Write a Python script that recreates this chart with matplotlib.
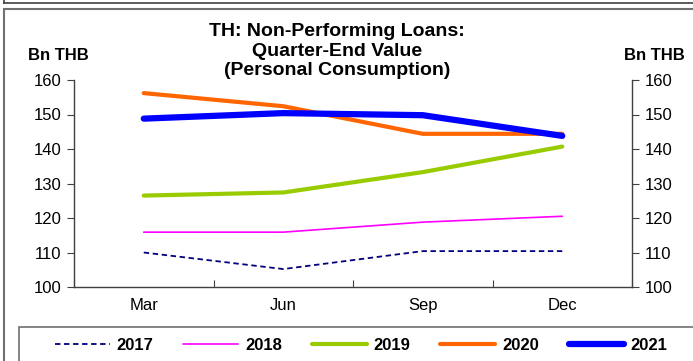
import matplotlib.pyplot as plt
from matplotlib.patches import Rectangle
from matplotlib.lines import Line2D

plt.rcParams['font.family'] = ['Liberation Sans', 'DejaVu Sans']

quarters = ["Mar", "Jun", "Sep", "Dec"]
years = ["2017", "2018", "2019", "2020", "2021"]
npl_2017 = [110.0, 105.2, 110.4, 110.4]
npl_2018 = [115.9, 115.9, 118.8, 120.5]
npl_2019 = [126.5, 127.4, 133.3, 140.7]
npl_2020 = [156.2, 152.4, 144.4, 144.4]
npl_2021 = [148.8, 150.4, 149.8, 143.8]

series = [npl_2017, npl_2018, npl_2019, npl_2020, npl_2021]
colors = ["#000080", "#FF00FF", "#99CC00", "#FF6600", "#0000FF"]
widths = [1.3, 1.2, 3.0, 3.0, 4.5]
styles = [(0, (3, 2)), "-", "-", "-", "-"]

W, H = 693, 361
fig = plt.figure(figsize=(W / 100, H / 100), dpi=100)

# chart frame and the edge of the box above it
fig.patches.append(Rectangle((3.5 / W, -0.1), (W + 10) / W, (H - 8.5) / H + 0.1,
                             transform=fig.transFigure, fill=False,
                             edgecolor="#707070", linewidth=1.5))
fig.add_artist(Line2D([3.5 / W, 1.0], [1 - 2.5 / H, 1 - 2.5 / H],
                      transform=fig.transFigure, color="#404040", lw=1.2))
fig.add_artist(Line2D([3.5 / W, 3.5 / W], [1 - 2.5 / H, 1.0],
                      transform=fig.transFigure, color="#404040", lw=1.2))

x0, x1, y0, y1 = 74, 632, 287, 80
ax = fig.add_axes([x0 / W, 1 - y0 / H, (x1 - x0) / W, (y0 - y1) / H])
x = list(range(len(quarters)))
lines = []
for vals, c, lw, ls, lab in zip(series, colors, widths, styles, years):
    ln, = ax.plot(x, vals, color=c, lw=lw, linestyle=ls, label=lab,
                  solid_capstyle="round")
    lines.append(ln)

ax.set_xlim(-0.5, 3.5)
ax.set_ylim(100, 160)
ax.set_yticks(range(100, 161, 10))
ax.set_xticks([-0.5, 0.5, 1.5, 2.5, 3.5])
ax.set_xticklabels([])
ax.set_xticks(x, minor=True)
ax.set_xticklabels(quarters, minor=True)
ax.tick_params(axis="x", which="minor", length=0, pad=8, labelsize=12)
ax.tick_params(axis="x", which="major", length=5, direction="in", color="#404040")
ax.tick_params(axis="y", which="both", direction="out", length=5, color="#404040",
               labelsize=12, left=True, right=True, labelleft=True, labelright=True,
               pad=4)
ax.spines["top"].set_visible(False)
for s in ["left", "right", "bottom"]:
    ax.spines[s].set_color("#404040")
    ax.spines[s].set_linewidth(1.0)

fig.text(337 / W, 1 - 51 / H, "TH: Non-Performing Loans:\nQuarter-End Value\n(Personal Consumption)",
         ha="center", va="center", fontsize=14, fontweight="bold", linespacing=1.2)
fig.text(58 / W, 1 - 55 / H, "Bn THB", ha="center", va="center", fontsize=12, fontweight="bold")
fig.text(654 / W, 1 - 55 / H, "Bn THB", ha="center", va="center", fontsize=12, fontweight="bold")

# legend box along the bottom
fig.patches.append(Rectangle((19 / W, -0.1), (W + 10) / W, (H - 327) / H + 0.1,
                             transform=fig.transFigure, fill=False,
                             edgecolor="#707070", linewidth=1.2))
leg = fig.legend(handles=lines, loc="center", bbox_to_anchor=(361 / W, 1 - 345 / H),
                 ncol=5, frameon=False, handlelength=3.3, columnspacing=1.8,
                 handletextpad=0.4, borderpad=0, prop={"weight": "bold", "size": 12})

fig.savefig("out.png", dpi=100)
